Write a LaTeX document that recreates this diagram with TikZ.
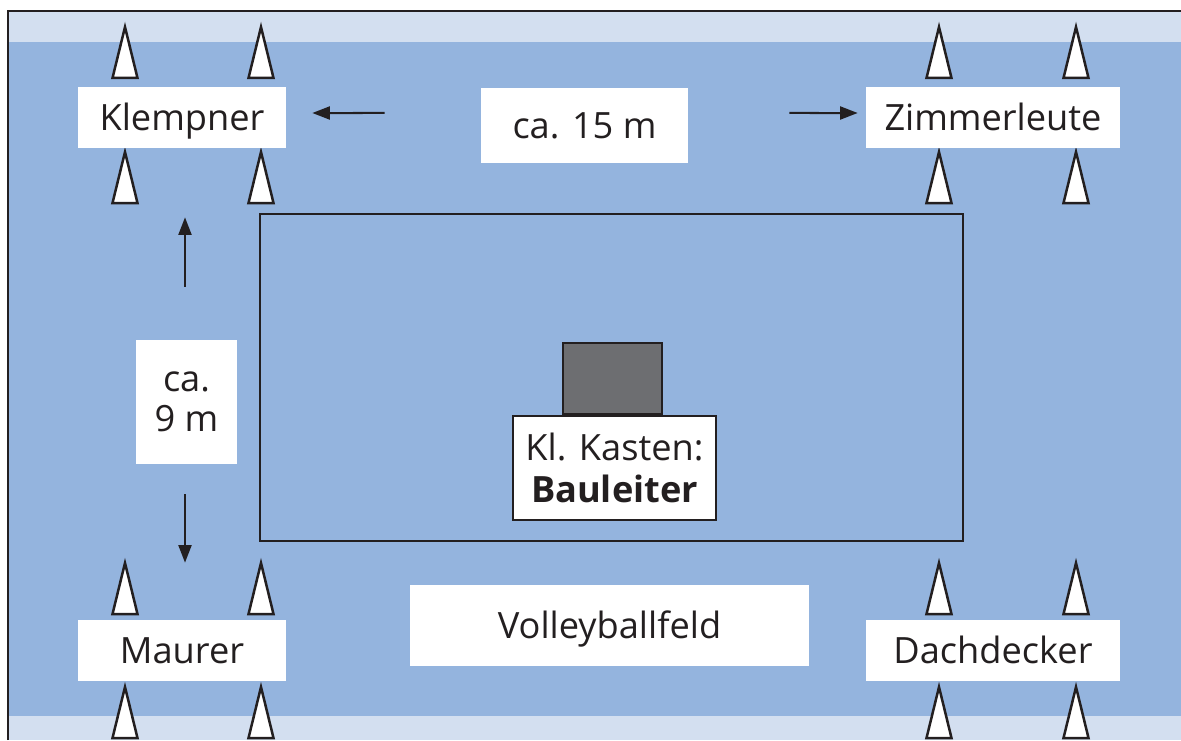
\documentclass[tikz,border=0pt]{standalone}
\usepackage{fontspec}
\setmainfont{Open Sans}
\usetikzlibrary{positioning, arrows.meta}

\definecolor{fieldblue}{RGB}{148,180,222}
\definecolor{bandblue}{RGB}{211,223,240}
\definecolor{inkgray}{RGB}{35,31,32}
\definecolor{boxgray}{RGB}{109,110,113}

\begin{document}
\begin{tikzpicture}[
        x=0.2mm, y=-0.2mm,
        tag/.style={fill=white, inner sep=0pt, text=inkgray, align=center, font=\fontsize{20.6}{23}\selectfont},
        oneline/.style={text height=15pt, text depth=0pt},
        dim/.style={-{Triangle[length=3.5mm, width=2.6mm]}, line width=0.4mm, draw=inkgray},
        cone/.style={draw=inkgray, fill=white, line width=0.5mm, line join=miter}
    ]
    \useasboundingbox (0,0) rectangle (1181,740);

    % ground and bands
    \fill[fieldblue] (8,11) rectangle (1181,740);
    \fill[bandblue] (8,11) rectangle (1181,42);
    \fill[bandblue] (8,716) rectangle (1181,740);
    \draw[inkgray, line width=0.45mm] (8,740) -- (8,11) -- (1181,11);

    % playing field
    \draw[inkgray, line width=0.45mm] (260,214) rectangle (963,541);

    % cones
    \foreach \cx in {125,261,939,1076}
        \foreach \cy in {27,152,563,687}
            \draw[cone] (\cx,\cy) -- ++(12.5,51) -- ++(-25,0) -- cycle;

    % stations
    \node[tag, oneline, minimum width=41.6mm, minimum height=12.2mm] (klempner) at (182,117.5) {Klempner};
    \node[tag, oneline, minimum width=50.8mm, minimum height=12.2mm] (zimmer) at (993,117.5) {Zimmerleute};
    \node[tag, oneline, minimum width=41.6mm, minimum height=12.2mm] (maurer) at (182,650.5) {Maurer};
    \node[tag, oneline, minimum width=50.8mm, minimum height=12.2mm] (dach) at (993,650.5) {Dachdecker};

    \node[tag, oneline, minimum width=41.4mm, minimum height=15mm] (len15) at (584.5,125.5) {ca. 15 m};
    \node[tag, minimum width=20.2mm, minimum height=24.8mm] (len9) at (186.5,402) {ca.\\9 m};
    \node[tag, oneline, minimum width=79.8mm, minimum height=16.2mm] (feld) at (609.5,625.5) {Volleyballfeld};

    \node[tag, draw=inkgray, line width=0.4mm, minimum width=40.6mm, minimum height=20.8mm,
          font=\fontsize{20.6}{24}\selectfont] (kasten) at (614.5,468) {Kl. Kasten:\\\textbf{Bauleiter}};
    \node[draw=inkgray, fill=boxgray, line width=0.4mm, minimum width=19.9mm, minimum height=14.3mm,
          inner sep=0pt, above=0pt of kasten, xshift=-0.4mm] (kiste) {};

    % distances
    \draw[dim, shorten <=19.2mm, shorten >=5.2mm] ([yshift=2.5mm]len15.west) -- ([yshift=0.9mm]klempner.east);
    \draw[dim, shorten <=20.2mm, shorten >=1.6mm] ([yshift=2.5mm]len15.east) -- ([yshift=0.9mm]zimmer.west);
    \draw[dim, shorten <=10.6mm, shorten >=13.8mm] ([xshift=-0.3mm]len9.north) -- ([xshift=-0.3mm]len9.north |- klempner.south);
    \draw[dim, shorten <=6mm, shorten >=11.4mm] ([xshift=-0.3mm]len9.south) -- ([xshift=-0.3mm]len9.south |- maurer.north);

\end{tikzpicture}
\end{document}
